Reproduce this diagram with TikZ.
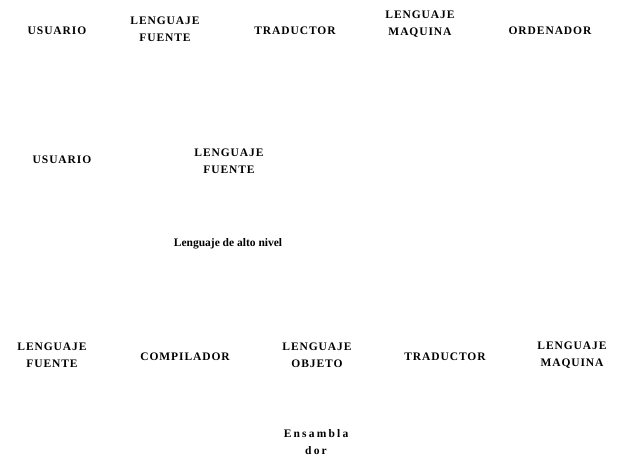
\documentclass[tikz,border=0pt]{standalone}
\usepackage{fontspec}
\setmainfont{Liberation Serif}
\newfontfamily\ancha[LetterSpace=8]{Liberation Serif}
\newfontfamily\muyancha[LetterSpace=19]{Liberation Serif}
\usetikzlibrary{positioning}

\begin{document}
\begin{tikzpicture}[x=1pt, y=-1pt,
    caja/.style={font=\ancha\fontsize{11.5}{17}\selectfont\bfseries, align=center, inner sep=1pt},
    nota/.style={font=\fontsize{11.5}{17}\selectfont\bfseries, align=center, inner sep=1pt},
    notaancha/.style={nota, font=\muyancha\fontsize{11.5}{17}\selectfont\bfseries}]
  \useasboundingbox (0,0) rectangle (623,468);

  \node[caja] (U1) at (57,31) {USUARIO};
  \node[caja] (F1) at (165,29) {LENGUAJE\\FUENTE};
  \node[caja] (T1) at (295,31) {TRADUCTOR};
  \node[caja] (M1) at (420,24) {LENGUAJE\\MAQUINA};
  \node[caja] (O1) at (550,31) {ORDENADOR};

  \node[caja] (U2) at (62,160) {USUARIO};
  \node[caja] (F2) at (229,161) {LENGUAJE\\FUENTE};
  \node[nota] (A2) at (228,244) {Lenguaje de alto nivel};

  \node[caja] (F3) at (52,355) {LENGUAJE\\FUENTE};
  \node[caja] (C3) at (185,357) {COMPILADOR};
  \node[caja] (J3) at (317,355) {LENGUAJE\\OBJETO};
  \node[caja] (T3) at (445,357) {TRADUCTOR};
  \node[caja] (M3) at (572,355) {LENGUAJE\\MAQUINA};
  \node[notaancha] (E3) at (316,442) {Ensambla\\dor};
\end{tikzpicture}
\end{document}
